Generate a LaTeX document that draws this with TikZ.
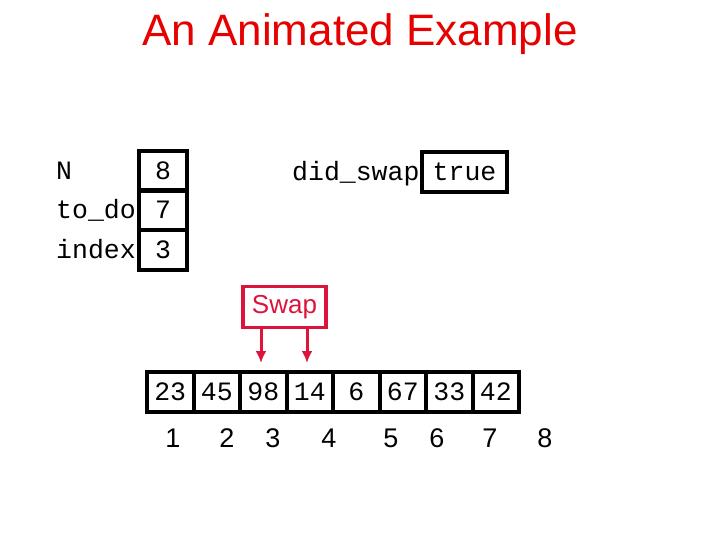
\documentclass[tikz,border=0pt]{standalone}
\usepackage{fontspec}
\usetikzlibrary{arrows.meta}
\setmainfont{Liberation Sans}
\newfontfamily\mono{Liberation Mono}
\definecolor{titlered}{RGB}{230,0,0}
\definecolor{swapred}{RGB}{220,20,60}
\begin{document}
\begin{tikzpicture}[x=1pt,y=-1pt,
  cell/.style={draw=black,line width=4pt,minimum width=#1,minimum height=40pt,inner sep=0pt,font=\mono\fontsize{26.5}{26.5}\selectfont,anchor=north west},
  cell/.default=47pt,
  lbl/.style={font=\mono\fontsize{26.5}{26.5}\selectfont,anchor=west,inner sep=0pt},
  idx/.style={font=\fontsize{27}{27}\selectfont,inner sep=0pt}]
\useasboundingbox (0,0) rectangle (720,540);
\node[font=\fontsize{44}{44}\selectfont,text=titlered] (title) at (360,34) {An Animated Example};
\node[lbl] (lN) at (56,171) {N};
\node[lbl] (lT) at (56,210) {to\_do};
\node[lbl] (lI) at (56,249) {index};
\node[lbl] (lD) at (292,174) {did\_swap};
\node[cell=48pt,fill=white] (vN) at (137,149) {8};
\node[cell=48pt] (vT) at (137,188) {7};
\node[cell=48pt] (vI) at (137,228) {3};
\node[cell=85pt] (vD) at (420,150) {true};
\node[draw=swapred,line width=3.5pt,text=swapred,minimum width=83pt,minimum height=41pt,inner sep=0pt,font=\fontsize{26}{26}\selectfont] (swap) at (284.5,307) {Swap};
\foreach \v [count=\i] in {23,45,98,14,6,67,33,42}{
  \node[cell=46.5pt] (a\i) at ({145+(\i-1)*46.5},370) {\v};
}
\coordinate (s1) at (261,327);
\coordinate (s2) at (307,327);
\coordinate (t1) at (261,363);
\coordinate (t2) at (307,363);
\draw[swapred,line width=3pt,-{Latex[length=12pt,width=11pt]}] (s1) -- (t1);
\draw[swapred,line width=3pt,-{Latex[length=12pt,width=11pt]}] (s2) -- (t2);
\foreach \x [count=\i] in {173,227,273,329,391,437,490,545}{
  \node[idx] (n\i) at (\x,438) {\i};
}
\end{tikzpicture}
\end{document}
